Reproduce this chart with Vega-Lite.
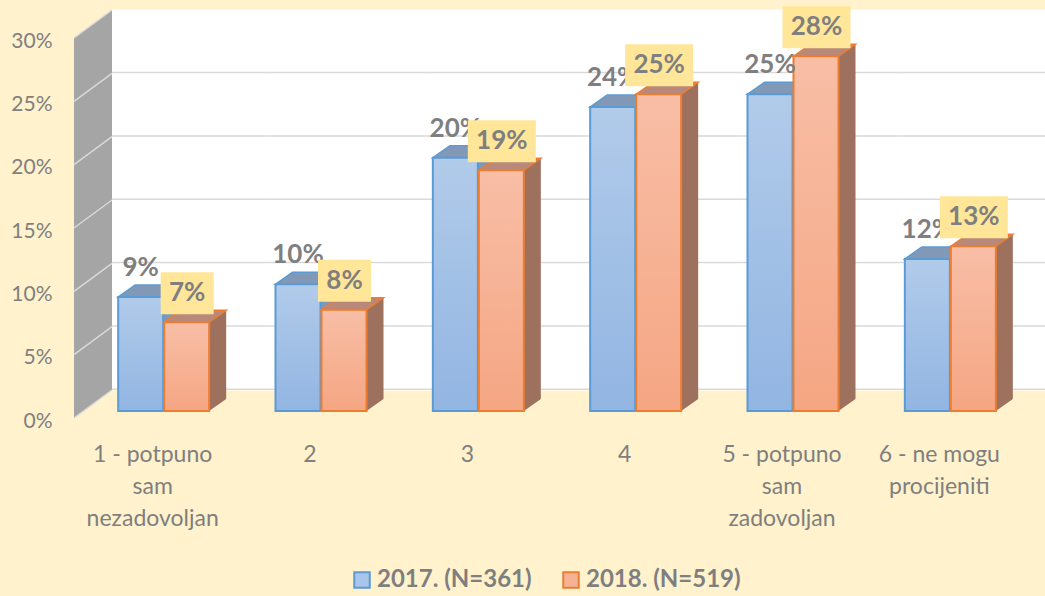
{
  "$schema": "https://vega.github.io/schema/vega-lite/v6.json",
  "width": 944,
  "height": 380,
  "autosize": {"type": "none"},
  "padding": {"left": 74, "top": 38, "right": 27, "bottom": 178},
  "background": "#fff2cc",
  "config": {"view": {"stroke": null}, "font": "Lato"},
  "data": {
    "values": [
      {"category": "1 - potpuno sam nezadovoljan", "year": "2017. (N=361)", "value": 0.09},
      {"category": "2", "year": "2017. (N=361)", "value": 0.10},
      {"category": "3", "year": "2017. (N=361)", "value": 0.20},
      {"category": "4", "year": "2017. (N=361)", "value": 0.24},
      {"category": "5 - potpuno sam zadovoljan", "year": "2017. (N=361)", "value": 0.25},
      {"category": "6 - ne mogu procijeniti", "year": "2017. (N=361)", "value": 0.12},
      {"category": "1 - potpuno sam nezadovoljan", "year": "2018. (N=519)", "value": 0.07},
      {"category": "2", "year": "2018. (N=519)", "value": 0.08},
      {"category": "3", "year": "2018. (N=519)", "value": 0.19},
      {"category": "4", "year": "2018. (N=519)", "value": 0.25},
      {"category": "5 - potpuno sam zadovoljan", "year": "2018. (N=519)", "value": 0.28},
      {"category": "6 - ne mogu procijeniti", "year": "2018. (N=519)", "value": 0.13}
    ]
  },
  "encoding": {
    "x": {
      "field": "category", "type": "nominal", "title": null,
      "scale": {"domain": ["1 - potpuno sam nezadovoljan", "2", "3", "4", "5 - potpuno sam zadovoljan", "6 - ne mogu procijeniti"], "paddingInner": 0, "paddingOuter": 0},
      "axis": {
        "title": null, "domain": false, "ticks": false, "grid": false, "labelAngle": 0,
        "labelFont": "Lato", "labelFontSize": 23, "labelColor": "#7f7f7f", "labelPadding": 25, "labelLineHeight": 32,
        "labelExpr": "datum.value == '1 - potpuno sam nezadovoljan' ? ['1 - potpuno', 'sam', 'nezadovoljan'] : datum.value == '5 - potpuno sam zadovoljan' ? ['5 - potpuno', 'sam', 'zadovoljan'] : datum.value == '6 - ne mogu procijeniti' ? ['6 - ne mogu', 'procijeniti'] : datum.value"
      }
    },
    "y": {
      "field": "value", "type": "quantitative", "title": null,
      "scale": {"domain": [0, 0.3], "nice": false},
      "axis": {
        "title": null, "domain": false, "ticks": false, "grid": false,
        "values": [0, 0.05, 0.1, 0.15, 0.2, 0.25, 0.3], "format": ".0%",
        "labelFont": "Lato", "labelFontSize": 21, "labelColor": "#7f7f7f", "labelPadding": 22, "labelOffset": 3
      }
    }
  },
  "layer": [
    {
      "transform": [{"filter": "datum.year == '2017. (N=361)'"}],
      "mark": {"type": "bar", "width": {"band": 1}, "xOffset": 38, "yOffset": -28, "y2Offset": -28, "fill": "white", "stroke": "white", "strokeWidth": 1},
      "encoding": {"y": {"datum": 0, "type": "quantitative", "title": null}, "y2": {"datum": 0.3}}
    },
    {
      "transform": [{"filter": "datum.year == '2017. (N=361)'"}],
      "mark": {"type": "bar", "width": {"band": 1}, "xOffset": 38, "yOffset": -28, "y2Offset": -29.5, "fill": "#d9d9d9"},
      "encoding": {"y": {"datum": 0, "type": "quantitative", "title": null}, "y2": {"datum": 0}}
    },
    {
      "transform": [{"filter": "datum.year == '2017. (N=361)'"}],
      "mark": {"type": "bar", "width": {"band": 1}, "xOffset": 38, "yOffset": -28, "y2Offset": -29.5, "fill": "#d9d9d9"},
      "encoding": {"y": {"datum": 0.05, "type": "quantitative", "title": null}, "y2": {"datum": 0.05}}
    },
    {
      "transform": [{"filter": "datum.year == '2017. (N=361)'"}],
      "mark": {"type": "bar", "width": {"band": 1}, "xOffset": 38, "yOffset": -28, "y2Offset": -29.5, "fill": "#d9d9d9"},
      "encoding": {"y": {"datum": 0.1, "type": "quantitative", "title": null}, "y2": {"datum": 0.1}}
    },
    {
      "transform": [{"filter": "datum.year == '2017. (N=361)'"}],
      "mark": {"type": "bar", "width": {"band": 1}, "xOffset": 38, "yOffset": -28, "y2Offset": -29.5, "fill": "#d9d9d9"},
      "encoding": {"y": {"datum": 0.15, "type": "quantitative", "title": null}, "y2": {"datum": 0.15}}
    },
    {
      "transform": [{"filter": "datum.year == '2017. (N=361)'"}],
      "mark": {"type": "bar", "width": {"band": 1}, "xOffset": 38, "yOffset": -28, "y2Offset": -29.5, "fill": "#d9d9d9"},
      "encoding": {"y": {"datum": 0.2, "type": "quantitative", "title": null}, "y2": {"datum": 0.2}}
    },
    {
      "transform": [{"filter": "datum.year == '2017. (N=361)'"}],
      "mark": {"type": "bar", "width": {"band": 1}, "xOffset": 38, "yOffset": -28, "y2Offset": -29.5, "fill": "#d9d9d9"},
      "encoding": {"y": {"datum": 0.25, "type": "quantitative", "title": null}, "y2": {"datum": 0.25}}
    },
    {
      "transform": [{"filter": "datum.year == '2017. (N=361)' && datum.category == '1 - potpuno sam nezadovoljan'"}],
      "mark": {"type": "point", "shape": "M0,0L38,-28L38,-408L0,-380Z", "size": 4, "filled": true, "fill": "#a5a5a5", "opacity": 1, "strokeWidth": 0, "xOffset": -78.67},
      "encoding": {"y": {"datum": 0, "type": "quantitative", "title": null}}
    },
    {
      "transform": [{"filter": "datum.year == '2017. (N=361)' && datum.category == '1 - potpuno sam nezadovoljan'"}],
      "mark": {"type": "point", "shape": "M0,0L38,-28M0,-63.33L38,-91.33M0,-126.67L38,-154.67M0,-190L38,-218M0,-253.33L38,-281.33M0,-316.67L38,-344.67M0,-380L38,-408", "size": 4, "filled": false, "stroke": "#d9d9d9", "strokeWidth": 1.5, "opacity": 1, "xOffset": -78.67},
      "encoding": {"y": {"datum": 0, "type": "quantitative", "title": null}}
    },
    {
      "transform": [{"filter": "datum.year == '2017. (N=361)'"}],
      "mark": {"type": "bar", "width": 17, "xOffset": 19, "yOffset": -19, "y2Offset": -19, "fill": "#7f98b8"},
      "encoding": {"y2": {"datum": 0}}
    },
    {
      "transform": [{"filter": "datum.year == '2017. (N=361)'"}],
      "mark": {"type": "point", "shape": "M-22.5,0L22.5,0L39.5,-12L-5.5,-12Z", "size": 4, "filled": true, "fill": "#8199b6", "stroke": "#5b9bd5", "strokeWidth": 1.5, "opacity": 1, "xOffset": -12, "yOffset": -7}
    },
    {
      "transform": [{"filter": "datum.year == '2017. (N=361)'"}],
      "mark": {
        "type": "bar", "width": 45, "xOffset": -12, "yOffset": -7, "y2Offset": -7,
        "fill": {"gradient": "linear", "x1": 0, "y1": 0, "x2": 0, "y2": 1, "stops": [{"offset": 0, "color": "#b1cbea"}, {"offset": 1, "color": "#92b5e2"}]},
        "stroke": "#5b9bd5", "strokeWidth": 2
      },
      "encoding": {"y2": {"datum": 0}}
    },
    {
      "transform": [{"filter": "datum.year == '2018. (N=519)'"}],
      "mark": {"type": "bar", "width": 17, "xOffset": 65, "yOffset": -19, "y2Offset": -19, "fill": "#9e715e"},
      "encoding": {"y2": {"datum": 0}}
    },
    {
      "transform": [{"filter": "datum.year == '2018. (N=519)'"}],
      "mark": {"type": "point", "shape": "M22.5,0L39.5,-12L22.5,-12Z", "size": 4, "filled": true, "fill": "#9e715e", "strokeWidth": 0, "opacity": 1, "xOffset": 34, "yOffset": -7},
      "encoding": {"y": {"datum": 0, "type": "quantitative", "title": null}}
    },
    {
      "transform": [{"filter": "datum.year == '2018. (N=519)'"}],
      "mark": {"type": "point", "shape": "M-22.5,0L22.5,0L39.5,-12L-5.5,-12Z", "size": 4, "filled": true, "fill": "#b8897a", "stroke": "#ed7d31", "strokeWidth": 1.5, "opacity": 1, "xOffset": 34, "yOffset": -7}
    },
    {
      "transform": [{"filter": "datum.year == '2018. (N=519)'"}],
      "mark": {
        "type": "bar", "width": 45, "xOffset": 34, "yOffset": -7, "y2Offset": -7,
        "fill": {"gradient": "linear", "x1": 0, "y1": 0, "x2": 0, "y2": 1, "stops": [{"offset": 0, "color": "#f8bea6"}, {"offset": 1, "color": "#f5a683"}]},
        "stroke": "#ed7d31", "strokeWidth": 2
      },
      "encoding": {"y2": {"datum": 0}}
    },
    {
      "transform": [{"filter": "datum.year == '2017. (N=361)'"}],
      "mark": {"type": "text", "xOffset": -12, "yOffset": -36, "font": "Lato", "fontWeight": "bold", "fontSize": 26, "fill": "#7f7f7f", "baseline": "middle", "align": "center"},
      "encoding": {"text": {"field": "value", "type": "quantitative", "format": ".0%"}}
    },
    {
      "transform": [{"filter": "datum.year == '2018. (N=519)' && datum.value < 0.095"}],
      "mark": {"type": "bar", "width": 53, "xOffset": 34.5, "yOffset": -15, "y2Offset": -57, "fill": "#ffe699"},
      "encoding": {"y2": {"field": "value"}}
    },
    {
      "transform": [{"filter": "datum.year == '2018. (N=519)' && datum.value >= 0.095"}],
      "mark": {"type": "bar", "width": 68, "xOffset": 34.5, "yOffset": -15, "y2Offset": -57, "fill": "#ffe699"},
      "encoding": {"y2": {"field": "value"}}
    },
    {
      "transform": [{"filter": "datum.year == '2018. (N=519)'"}],
      "mark": {"type": "text", "xOffset": 34.5, "yOffset": -36, "font": "Lato", "fontWeight": "bold", "fontSize": 26, "fill": "#7f7f7f", "baseline": "middle", "align": "center"},
      "encoding": {"text": {"field": "value", "type": "quantitative", "format": ".0%"}}
    },
    {
      "transform": [{"filter": "false"}],
      "mark": {"type": "bar"},
      "encoding": {
        "fill": {
          "field": "year", "type": "nominal",
          "scale": {"domain": ["2017. (N=361)", "2018. (N=519)"], "range": ["#a9c6ea", "#f6b295"]},
          "legend": {"orient": "none", "legendX": 276, "legendY": 530, "direction": "horizontal", "title": null, "symbolType": "square", "symbolSize": 240, "symbolStrokeWidth": 2, "labelFont": "Lato", "labelFontSize": 24, "labelFontWeight": "bold", "labelColor": "#7f7f7f", "columnPadding": 27, "labelOffset": 3}
        },
        "stroke": {
          "field": "year", "type": "nominal",
          "scale": {"domain": ["2017. (N=361)", "2018. (N=519)"], "range": ["#5b9bd5", "#ed7d31"]},
          "legend": {"orient": "none", "legendX": 276, "legendY": 530, "direction": "horizontal", "title": null, "symbolType": "square", "symbolSize": 240, "symbolStrokeWidth": 2, "labelFont": "Lato", "labelFontSize": 24, "labelFontWeight": "bold", "labelColor": "#7f7f7f", "columnPadding": 27, "labelOffset": 3}
        }
      }
    }
  ]
}
